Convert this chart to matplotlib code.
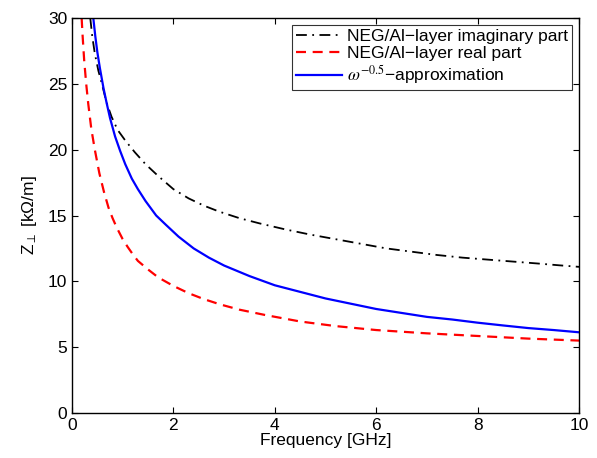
import matplotlib
matplotlib.use("Agg")
import matplotlib.pyplot as plt

plt.rcParams["font.family"] = ["Liberation Sans", "DejaVu Sans"]
plt.rcParams["mathtext.fontset"] = "stix"

# Imaginary part of the NEG/Al-layer impedance
freq_imag = [0.36, 0.4, 0.45, 0.52, 0.59, 0.68, 0.78, 0.9, 1.05, 1.24, 1.45,
             1.7, 2.0, 2.3, 2.6, 2.9, 3.3, 3.7, 4.2, 4.7, 5.2, 5.7, 6.2,
             6.7, 7.2, 7.7, 8.2, 8.7, 9.2, 9.6, 10.0]
z_imag = [30, 28.6, 27.3, 26.0, 25.0, 23.6, 22.5, 21.5, 20.7, 19.8, 18.9,
          18.0, 17.0, 16.3, 15.75, 15.3, 14.8, 14.4, 13.95, 13.55, 13.2,
          12.85, 12.5, 12.25, 12.0, 11.8, 11.65, 11.5, 11.35, 11.22, 11.1]

# Real part of the NEG/Al-layer impedance
freq_real = [0.19, 0.21, 0.24, 0.28, 0.32, 0.38, 0.45, 0.54, 0.63, 0.72, 0.8,
             0.88, 1.0, 1.1, 1.2, 1.3, 1.5, 1.7, 2.0, 2.3, 2.6, 2.92, 3.3,
             3.8, 4.5, 5.2, 6.0, 7.0, 8.0, 9.0, 10.0]
z_real = [30, 28.6, 26.8, 25.0, 23.5, 21.6, 20.0, 18.2, 16.8, 15.6, 14.8,
          14.1, 13.2, 12.6, 12.05, 11.55, 10.9, 10.3, 9.65, 9.1, 8.65, 8.25,
          7.85, 7.45, 6.95, 6.6, 6.3, 6.05, 5.85, 5.65, 5.5]

# omega^-0.5 approximation
freq_fit = [0.42, 0.46, 0.5, 0.55, 0.62, 0.68, 0.75, 0.85, 0.95, 1.05, 1.18,
            1.3, 1.45, 1.66, 1.85, 2.1, 2.4, 2.7, 3.0, 3.5, 4.0, 4.5, 5.0,
            5.5, 6.0, 6.5, 7.0, 7.5, 8.0, 8.5, 9.0, 9.5, 10.0]
z_fit = [30, 28.6, 27.4, 26.2, 24.7, 23.6, 22.4, 21.0, 19.9, 18.9, 17.8,
         17.0, 16.1, 15.0, 14.3, 13.4, 12.5, 11.8, 11.2, 10.4, 9.7, 9.2,
         8.7, 8.3, 7.9, 7.6, 7.3, 7.1, 6.86, 6.65, 6.45, 6.3, 6.13]

fig = plt.figure(figsize=(5.97, 4.58), dpi=100)
ax = fig.add_axes([72 / 597, 45 / 458, 507 / 597, 395 / 458])

ax.plot(freq_imag, z_imag, color="black", linestyle="-.", linewidth=1.3,
        dashes=(6, 3, 1, 3), label="NEG/Al\u2212layer imaginary part")
ax.plot(freq_real, z_real, color="red", linestyle="--", linewidth=1.6,
        dashes=(4.5, 3), label="NEG/Al\u2212layer real part")
ax.plot(freq_fit, z_fit, color="blue", linestyle="-", linewidth=1.6,
        label="$\\omega^{-0.5}$\u2212approximation")

ax.set_xlim(0, 10)
ax.set_ylim(0, 30)
ax.set_xticks(range(0, 11, 2))
ax.set_yticks(range(0, 31, 5))
ax.tick_params(direction="in", top=True, right=True, length=4,
               labelsize=12.5, width=0.8)
for s in ax.spines.values():
    s.set_linewidth(1.0)

ax.set_xlabel("Frequency [GHz]", fontsize=12.5, labelpad=0)
ax.set_ylabel("Z$_{\\perp}$ [k\u03a9/m]", fontsize=12.5, labelpad=6)

leg = ax.legend(loc="upper right", fontsize=12.5, frameon=True, fancybox=False,
                borderaxespad=0.4, handlelength=2.6, handletextpad=0.3,
                labelspacing=0.1, borderpad=0.25)
leg.get_frame().set_edgecolor("black")
leg.get_frame().set_linewidth(0.8)

fig.savefig("out.png", dpi=100)
